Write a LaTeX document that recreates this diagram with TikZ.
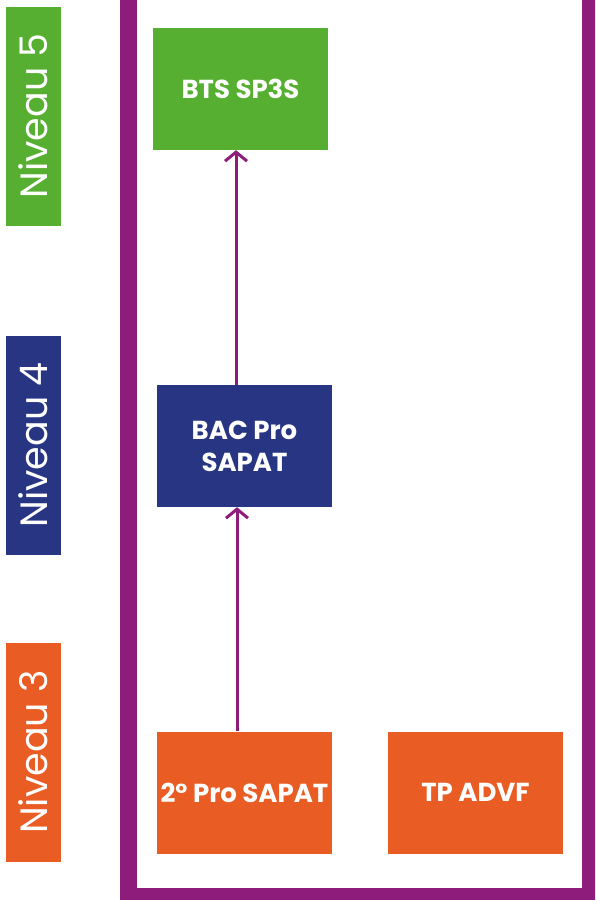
\documentclass[tikz,border=0pt]{standalone}
\usepackage{fontspec}
\setmainfont{Poppins}
\usetikzlibrary{arrows.meta}
\definecolor{vert}{HTML}{56AF31}
\definecolor{bleu}{HTML}{283583}
\definecolor{orange}{HTML}{E95D25}
\definecolor{violet}{HTML}{8E1C7B}
\tikzset{
  level/.style={fill=#1, draw=none, minimum width=55pt, minimum height=219pt, inner sep=0pt},
  leveltext/.style={text=white, font=\fontsize{38}{40}\selectfont, rotate=90},
  formation/.style={fill=#1, draw=none, minimum width=175pt, minimum height=122pt, inner sep=0pt,
    text=white, font=\bfseries\fontsize{26}{32}\selectfont, align=center},
  parcours/.style={draw=violet, line width=3pt, -{Straight Barb[length=9pt,width=22pt,line width=3pt]}}
}
\begin{document}
\begin{tikzpicture}[x=1pt,y=-1pt]
\useasboundingbox (0,0) rectangle (595,900);
\begin{scope}
\clip (0,0) rectangle (595,900);
\draw[violet, line width=17pt] (128.5,-30) rectangle (590.5,896.5);
\end{scope}
% level bars
\node[level=vert] (n5) at (33.5,116) {};
\node[leveltext] (t5) at (n5.center) {Niveau 5};
\node[level=bleu] (n4) at (33.5,445) {};
\node[leveltext] (t4) at (n4.center) {Niveau 4};
\node[level=orange] (n3) at (33.5,752) {};
\node[leveltext] (t3) at (n3.center) {Niveau 3};
% formations
\node[formation=vert] (bts) at (240.5,89) {BTS SP3S};
\node[formation=bleu] (bac) at (244.5,446) {BAC Pro\\SAPAT};
\node[formation=orange] (pro) at (244.5,792.5) {2° Pro SAPAT};
\node[formation=orange] (tp) at (475.5,792.5) {TP ADVF};
% arrows
\coordinate (ax1) at (237,0);
\coordinate (ax2) at (236,0);
\draw[parcours] (pro.north -| ax1) -- (bac.south -| ax1);
\draw[parcours] (bac.north -| ax2) -- (bts.south -| ax2);
\end{tikzpicture}
\end{document}
